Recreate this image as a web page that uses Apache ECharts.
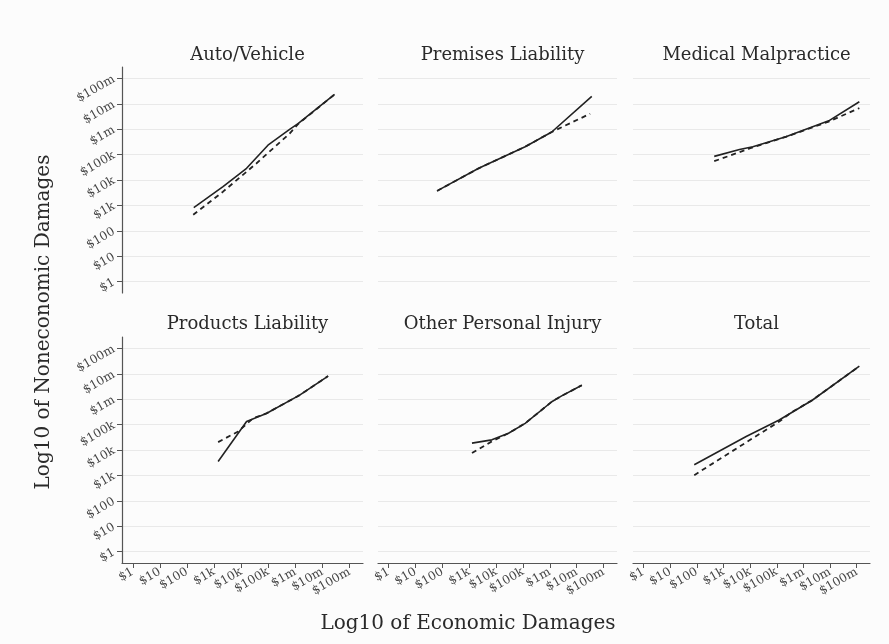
<!DOCTYPE html>
<html>
<head>
<meta charset="utf-8">
<script src="https://cdn.jsdelivr.net/npm/echarts@6/dist/echarts.min.js"></script>
<style>
  html, body { margin: 0; padding: 0; background: #fcfcfc; }
  #main { width: 889px; height: 644px; }
</style>
</head>
<body>
<div id="main"></div>
<script>
// panel order: top row left->right, then bottom row
const panelTitles = ['Auto/Vehicle', 'Premises Liability', 'Medical Malpractice',
  'Products Liability', 'Other Personal Injury', 'Total'];
const tickValues = [0, 1, 2, 3, 4, 5, 6, 7, 8];
const tickLabels = ['$1', '$10', '$100', '$1k', '$10k', '$100k', '$1m', '$10m', '$100m'];

// [log10 economic, log10 noneconomic]
const autoSolid = [[2.25, 2.91], [3.33, 3.74], [4.2, 4.46], [4.99, 5.37], [5.79, 5.99], [6.1, 6.22], [7.45, 7.37]];
const autoDashed = [[2.23, 2.63], [3.33, 3.54], [4.56, 4.65], [5.79, 5.83], [6.1, 6.2], [7.45, 7.37]];
const premSolid = [[1.8, 3.57], [3.35, 4.46], [5.08, 5.31], [6.07, 5.89], [7.56, 7.29]];
const premDashed = [[1.8, 3.57], [3.35, 4.46], [5.08, 5.31], [6.07, 5.89], [7.5, 6.61]];
const medSolid = [[2.65, 4.93], [3.6, 5.2], [4.1, 5.31], [5.34, 5.7], [6.95, 6.33], [8.1, 7.08]];
const medDashed = [[2.65, 4.74], [3.98, 5.24], [5.34, 5.7], [6.95, 6.3], [8.1, 6.83]];
const prodSolid = [[3.15, 3.55], [4.2, 5.12], [4.93, 5.44], [6.16, 6.16], [7.21, 6.91]];
const prodDashed = [[3.15, 4.31], [3.89, 4.73], [4.44, 5.25], [4.93, 5.44], [6.16, 6.16], [7.21, 6.91]];
const otherSolid = [[3.1, 4.27], [3.84, 4.4], [4.46, 4.66], [5.08, 5.05], [6.07, 5.9], [6.44, 6.13], [7.19, 6.55]];
const otherDashed = [[3.1, 3.88], [3.84, 4.34], [4.46, 4.66], [5.08, 5.05], [6.07, 5.9], [6.44, 6.13], [7.19, 6.55]];
const totalSolid = [[1.9, 3.42], [3.85, 4.53], [5.09, 5.18], [6.33, 5.96], [8.1, 7.3]];
const totalDashed = [[1.9, 3.01], [5.09, 5.12], [5.59, 5.51], [6.33, 5.96], [8.1, 7.3]];

const solidData = [autoSolid, premSolid, medSolid, prodSolid, otherSolid, totalSolid];
const dashedData = [autoDashed, premDashed, medDashed, prodDashed, otherDashed, totalDashed];

const font = 'DejaVu Serif';
const colLeft = [122, 378, 633];
const colWidth = [241, 239, 237];
const rowTop = [67, 337];
const rowHeight = 226;

const chart = echarts.init(document.getElementById('main'));

let grids = [], xAxes = [], yAxes = [], series = [], titles = [];
for (let i = 0; i < 6; i++) {
  const r = Math.floor(i / 3), c = i % 3;
  grids.push({left: colLeft[c], top: rowTop[r], width: colWidth[c], height: rowHeight});
  titles.push({
    text: panelTitles[i],
    left: colLeft[c] + colWidth[c] / 2,
    top: r === 0 ? 41 : 310,
    textAlign: 'center',
    textStyle: {fontFamily: font, fontSize: 18, fontWeight: 'normal', color: '#2a2a2a'}
  });
  xAxes.push({
    type: 'value', gridIndex: i, min: -0.4, max: 8.5,
    axisLine: {show: r === 1, onZero: false, lineStyle: {color: '#555', width: 1.2}},
    axisTick: {show: r === 1, customValues: tickValues, length: 5, lineStyle: {color: '#555'}},
    axisLabel: {
      show: r === 1, customValues: tickValues, rotate: 30, margin: 8,
      fontFamily: font, fontSize: 12, color: '#444',
      formatter: v => tickLabels[Math.round(v)]
    },
    splitLine: {show: false}
  });
  yAxes.push({
    type: 'value', gridIndex: i, min: -0.45, max: 8.45,
    axisLine: {show: c === 0, onZero: false, lineStyle: {color: '#555', width: 1.2}},
    axisTick: {show: c === 0, customValues: tickValues, length: 5, lineStyle: {color: '#555'}},
    axisLabel: {
      show: c === 0, customValues: tickValues, rotate: 30, margin: 8,
      fontFamily: font, fontSize: 12, color: '#444',
      formatter: v => tickLabels[Math.round(v)]
    },
    splitLine: {show: true, lineStyle: {color: '#e9e9e9', width: 1}}
  });
  series.push({
    type: 'line', xAxisIndex: i, yAxisIndex: i, data: dashedData[i],
    showSymbol: false, silent: true,
    lineStyle: {color: '#222', width: 1.8, type: [5, 4]}
  });
  series.push({
    type: 'line', xAxisIndex: i, yAxisIndex: i, data: solidData[i],
    showSymbol: false, silent: true,
    lineStyle: {color: '#222', width: 1.6}
  });
}

chart.setOption({
  backgroundColor: '#fcfcfc',
  animation: false,
  title: titles,
  grid: grids,
  xAxis: xAxes,
  yAxis: yAxes,
  series: series,
  graphic: [
    {
      type: 'text', x: 468, y: 624,
      style: {text: 'Log10 of Economic Damages', font: '20px "DejaVu Serif"', fill: '#2a2a2a',
        align: 'center', verticalAlign: 'middle'}
    },
    {
      type: 'text', x: 44, y: 322, rotation: Math.PI / 2,
      style: {text: 'Log10 of Noneconomic Damages', font: '20px "DejaVu Serif"', fill: '#2a2a2a',
        align: 'center', verticalAlign: 'middle'}
    }
  ]
});
</script>
</body>
</html>
